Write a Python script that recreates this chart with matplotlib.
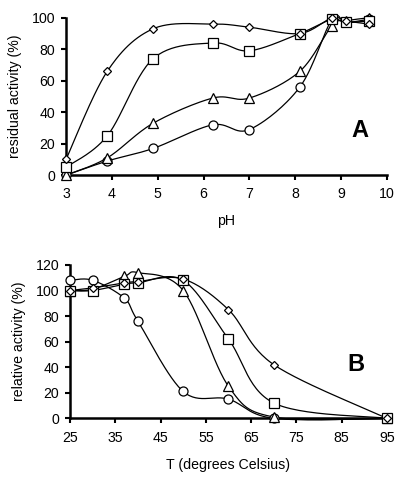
import numpy as np
import matplotlib
matplotlib.use("Agg")
import matplotlib.pyplot as plt

plt.rcParams['font.family'] = ['Liberation Sans', 'DejaVu Sans']

# Panel A: pH stability
ph = [3, 3.9, 4.9, 6.2, 7, 8.1, 8.8, 9.1, 9.6]
a_diamond = [10, 66, 93, 96, 94, 90, 100, 98, 96]
a_square = [5, 25, 74, 84, 79, 90, 99, 97, 98]
a_triangle = [0, 11, 33, 49, 49, 66, 95, 98, 100]
a_circle = [0, 9, 17, 32, 29, 56, 99, 97, 99]

# Panel B: temperature
temp = [25, 30, 37, 40, 50, 60, 70, 95]
b_diamond = [100, 102, 106, 107, 109, 85, 42, 0]
b_square = [100, 100, 105, 106, 108, 62, 12, 0]
b_triangle = [100, 101, 111, 114, 100, 25, 1, 0]
b_circle = [108, 108, 94, 76, 21, 15, 0, 0]

a_xticks = [3, 4, 5, 6, 7, 8, 9, 10]
a_yticks = [0, 20, 40, 60, 80, 100]
b_xticks = [25, 35, 45, 55, 65, 75, 85, 95]
b_yticks = [0, 20, 40, 60, 80, 100, 120]


def smooth(x, y, n=30):
    # Catmull-Rom (Excel-like) smoothing for the drawn line only
    p = np.column_stack([x, y]).astype(float)
    pts = np.vstack([p[0], p, p[-1]])
    out = []
    t = np.linspace(0, 1, n)[:, None]
    for i in range(1, len(pts) - 2):
        p0, p1, p2, p3 = pts[i - 1], pts[i], pts[i + 1], pts[i + 2]
        c1 = p1 + (p2 - p0) / 6.0
        c2 = p2 - (p3 - p1) / 6.0
        seg = ((1 - t) ** 3) * p1 + 3 * ((1 - t) ** 2) * t * c1 + 3 * (1 - t) * t ** 2 * c2 + t ** 3 * p2
        out.append(seg if i == 1 else seg[1:])
    s = np.vstack(out)
    return s[:, 0], s[:, 1]


fig = plt.figure(figsize=(4.01, 4.80), dpi=100)
axA = fig.add_axes([0.1646, 0.635, 0.8004, 0.328])
axB = fig.add_axes([0.1746, 0.1285, 0.7904, 0.3195])

markers = {'D': 4.5, 's': 6.5, '^': 6.5, 'o': 6.5}


def draw(ax, x, series):
    for y, m in series:
        sx, sy = smooth(x, y)
        ax.plot(sx, sy, color='black', lw=0.9, clip_on=False, zorder=2)
        ax.plot(x, y, linestyle='none', marker=m, ms=markers[m], mfc='white',
                mec='black', mew=0.9, clip_on=False, zorder=3)


draw(axA, ph, [(a_circle, 'o'), (a_triangle, '^'), (a_square, 's'), (a_diamond, 'D')])
draw(axB, temp, [(b_circle, 'o'), (b_triangle, '^'), (b_square, 's'), (b_diamond, 'D')])

for ax in (axA, axB):
    for s in ('top', 'right'):
        ax.spines[s].set_visible(False)
    for s in ('left', 'bottom'):
        ax.spines[s].set_linewidth(1.8)
    ax.tick_params(direction='out', length=3.8, width=1.5, labelsize=10.2)
    ax.tick_params(axis='x', pad=5)
    ax.tick_params(axis='y', pad=4)

axA.set_xlim(3, 10)
axA.set_ylim(0, 100)
axA.set_xticks(a_xticks)
axA.set_yticks(a_yticks)
axA.set_xlabel('pH', fontsize=10.2, labelpad=9)
axA.set_ylabel('residual activity (%)', fontsize=10.2, labelpad=7)
axA.text(0.916, 0.286, 'A', transform=axA.transAxes, fontsize=17, fontweight='bold',
         ha='center', va='center')

axB.set_xlim(25, 95)
axB.set_ylim(0, 120)
axB.set_xticks(b_xticks)
axB.set_yticks(b_yticks)
axB.set_xlabel('T (degrees Celsius)', fontsize=10.2, labelpad=10)
axB.set_ylabel('relative activity (%)', fontsize=10.2, labelpad=7)
axB.text(0.902, 0.348, 'B', transform=axB.transAxes, fontsize=17, fontweight='bold',
         ha='center', va='center')

fig.savefig('out.png', dpi=100)
